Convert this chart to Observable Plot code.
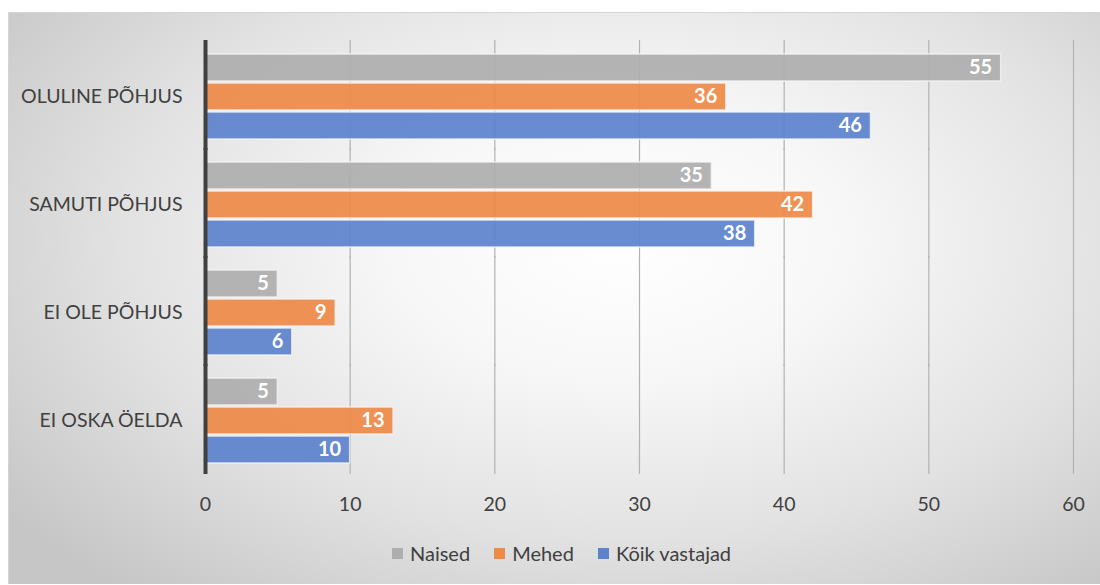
<!DOCTYPE html>
<html>
<head>
<meta charset="utf-8">
<script src="https://cdn.jsdelivr.net/npm/d3@7"></script>
<script src="https://cdn.jsdelivr.net/npm/@observablehq/plot@0.6"></script>
<style>
  html, body { margin: 0; padding: 0; background: #ffffff; }
  body { width: 1100px; height: 585px; position: relative; overflow: hidden; font-family: Lato, "Open Sans", sans-serif; }
  #frame {
    position: absolute; left: 8px; top: 12px; width: 1092px; height: 572px;
    box-sizing: border-box; border-top: 1px solid #d4d4d4; border-left: 1px solid #d4d4d4;
    background: radial-gradient(ellipse 70% 80% at 56% 40%, #ffffff 0%, #f7f7f7 30%, #e2e2e2 65%, #c6c6c6 100%);
  }
  #chart { position: absolute; left: 0; top: 0; }
  #legend { position: absolute; left: 392px; top: 541px; display: flex; align-items: center; font-size: 20px; color: #404040; }
  #legend .item { display: flex; align-items: center; margin-right: 24px; }
  #legend .sw { width: 11px; height: 11px; margin-right: 7px; }
</style>
</head>
<body>
<div id="frame"></div>
<div id="chart"></div>
<div id="legend"></div>
<script>
const categories = ["OLULINE PÕHJUS", "SAMUTI PÕHJUS", "EI OLE PÕHJUS", "EI OSKA ÖELDA"];
const series = ["Naised", "Mehed", "Kõik vastajad"];
const naised = [55, 35, 5, 5];
const mehed = [36, 42, 9, 13];
const koik = [46, 38, 6, 10];
const xTicks = [0, 10, 20, 30, 40, 50, 60];
const gridTicks = [10, 20, 30, 40, 50, 60];
const colors = ["#aeaeae", "#ee8a48", "#5d83cb"];

const valuesBySeries = [naised, mehed, koik];
const data = [];
categories.forEach((c, i) => {
  series.forEach((s, j) => data.push({category: c, series: s, value: valuesBySeries[j][i]}));
});

const chart = Plot.plot({
  width: 1100,
  height: 525,
  marginLeft: 205,
  marginRight: 27,
  marginTop: 42,
  marginBottom: 51,
  style: {background: "transparent", fontFamily: "Lato, 'Open Sans', sans-serif", fontSize: "19.5px", color: "#404040"},
  x: {domain: [0, 60], ticks: xTicks, tickSize: 0, tickPadding: 23, label: null, tickFormat: d => d},
  y: {domain: series, axis: null, paddingInner: 0.085, paddingOuter: 0.37},
  fy: {domain: categories, padding: 0, tickSize: 0, tickPadding: 23, label: null},
  color: {domain: series, range: colors},
  marks: [
    Plot.ruleX(gridTicks, {stroke: "#b2b2b2", strokeWidth: 1.2, insetTop: -2}),
    Plot.barX(data, {fy: "category", y: "series", x: "value", fill: "series", fillOpacity: 0.93, stroke: "#f4f4f4", strokeWidth: 1.5, strokeOpacity: 0.8}),
    Plot.text(data, {fy: "category", y: "series", x: "value", text: d => String(d.value), textAnchor: "end", dx: -9, fill: "white", fontWeight: "bold", fontSize: 20}),
    Plot.ruleX([0], {stroke: "#404040", strokeWidth: 4, insetTop: -2})
  ]
});
document.getElementById("chart").appendChild(chart);

const legend = document.getElementById("legend");
series.forEach((s, i) => {
  const item = document.createElement("div");
  item.className = "item";
  const sw = document.createElement("div");
  sw.className = "sw";
  sw.style.background = colors[i];
  const t = document.createElement("span");
  t.textContent = s;
  item.appendChild(sw);
  item.appendChild(t);
  legend.appendChild(item);
});
</script>
</body>
</html>
